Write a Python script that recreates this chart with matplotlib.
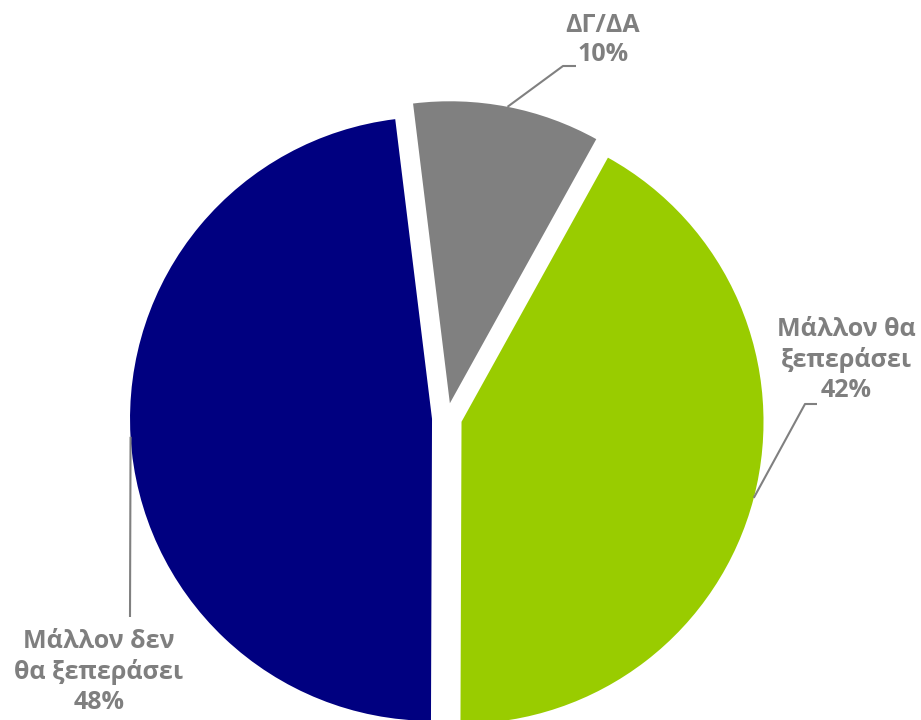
import numpy as np
import matplotlib
matplotlib.use('Agg')
import matplotlib.pyplot as plt

# data
labels = ['ΔΓ/ΔΑ', 'Μάλλον θα\nξεπεράσει', 'Μάλλον δεν\nθα ξεπεράσει']
shares = [10, 42, 48]
colors = ['#808080', '#99CC00', '#000080']

plt.rcParams['font.family'] = ['Open Sans', 'DejaVu Sans']

W, H = 921, 720
fig = plt.figure(figsize=(W / 100, H / 100), dpi=100)
ax = fig.add_axes([0, 0, 1, 1])

cx, cy, r = 447, H - 418, 302
wedges, _ = ax.pie(shares, colors=colors, startangle=97, counterclock=False,
                   center=(cx, cy), radius=r, explode=[15] * 3,
                   wedgeprops=dict(linewidth=0), frame=True)
ax.set_xlim(0, W)
ax.set_ylim(0, H)
ax.set_aspect('equal')
ax.axis('off')

# label boxes and leader elbows (image pixel coords, y down)
text_pos = [(603, 40), (846, 360), (99, 672)]
elbows = [[(563, 66), (576, 66)], [(805, 404), (817, 404)], [(130, 617)]]

for w, lab, s, tp, el in zip(wedges, labels, shares, text_pos, elbows):
    mid = np.deg2rad((w.theta1 + w.theta2) / 2)
    x0 = w.center[0] + w.r * np.cos(mid)
    y0 = w.center[1] + w.r * np.sin(mid)
    xs = [x0] + [p[0] for p in el]
    ys = [y0] + [H - p[1] for p in el]
    ax.plot(xs, ys, color='#808080', lw=1.5, solid_capstyle='butt')
    ax.text(tp[0], H - tp[1], '%s\n%d%%' % (lab, s), ha='center', va='center',
            fontsize=18, fontweight='bold', color='#7f7f7f', linespacing=1.25)

fig.savefig('out.png', dpi=100)
